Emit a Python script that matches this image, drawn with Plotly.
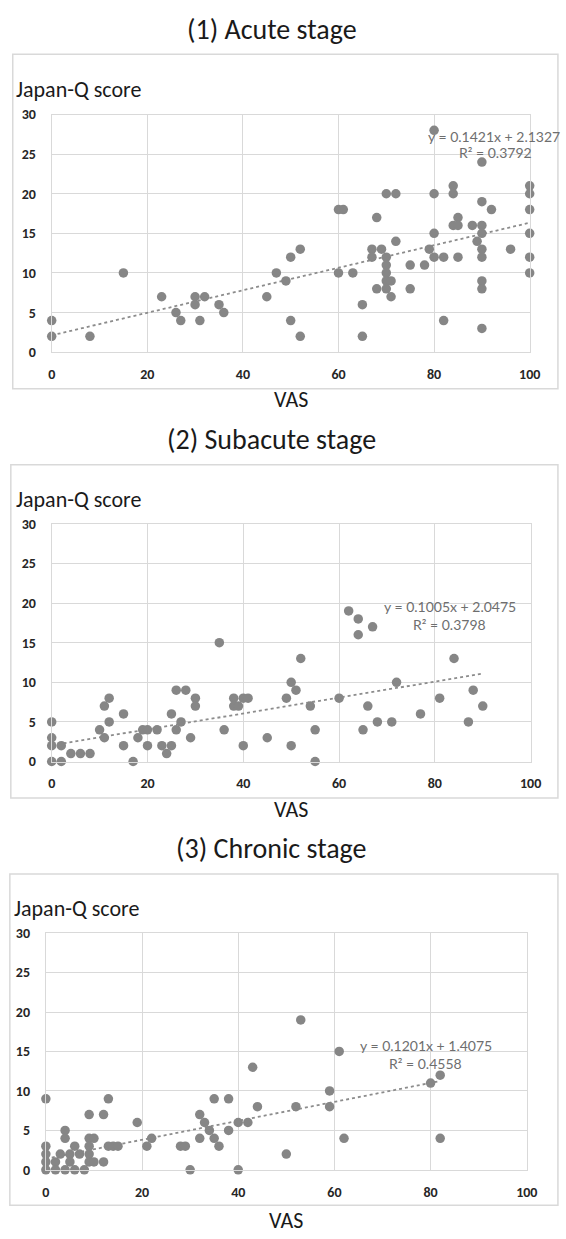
import plotly.graph_objects as go

W, H = 566, 1239

# ---------------- data ----------------
acute_vas = [0, 0, 8, 15, 23, 26, 27, 30, 30, 31, 32, 35, 36, 45, 47, 49, 50, 50, 52, 52,
             60, 61, 60, 63, 65, 65, 67, 67, 68, 68, 69, 70, 70, 70, 70, 70, 70, 71, 71,
             72, 72, 75, 75, 78, 79, 80, 80, 80, 80, 82, 82, 84, 84, 84, 85, 85, 85, 88,
             89, 90, 90, 90, 90, 90, 90, 90, 90, 90, 92, 96, 100, 100, 100, 100, 100, 100]
acute_q = [4, 2, 2, 10, 7, 5, 4, 7, 6, 4, 7, 6, 5, 7, 10, 9, 12, 4, 13, 2,
           18, 18, 10, 10, 6, 2, 13, 12, 17, 8, 13, 20, 12, 11, 10, 9, 8, 9, 7,
           20, 14, 11, 8, 11, 13, 28, 20, 15, 12, 12, 4, 21, 20, 16, 17, 16, 12, 16,
           14, 24, 19, 16, 15, 13, 12, 9, 8, 3, 18, 13, 21, 20, 18, 15, 12, 10]

subacute_vas = [0, 0, 0, 0, 2, 2, 4, 6, 8, 10, 11, 11, 12, 12, 15, 15, 17, 18, 19, 20,
                20, 22, 23, 24, 25, 25, 26, 26, 27, 28, 29, 30, 30, 35, 36, 38, 38, 39,
                40, 40, 41, 45, 49, 50, 50, 51, 52, 54, 55, 55, 60, 62, 64, 64, 65, 66,
                67, 68, 71, 72, 77, 81, 84, 87, 88, 90]
subacute_q = [5, 3, 2, 0, 2, 0, 1, 1, 1, 4, 7, 3, 8, 5, 6, 2, 0, 3, 4, 4,
              2, 4, 2, 1, 6, 2, 9, 4, 5, 9, 3, 8, 7, 15, 4, 8, 7, 7,
              8, 2, 8, 3, 8, 10, 2, 9, 13, 7, 4, 0, 8, 19, 18, 16, 4, 7,
              17, 5, 5, 10, 6, 8, 13, 5, 9, 7]

chronic_vas = [0, 0, 0, 0, 0, 2, 2, 3, 4, 4, 4, 5, 5, 6, 6, 7, 8, 9, 9, 9, 9, 9,
               10, 10, 12, 12, 13, 13, 14, 15, 19, 21, 22, 28, 29, 30, 32, 32, 33,
               34, 35, 35, 36, 38, 38, 40, 40, 42, 43, 44, 50, 52, 53, 59, 59, 61,
               62, 80, 82, 82]
chronic_q = [9, 3, 2, 1, 0, 1, 0, 2, 5, 4, 0, 2, 1, 3, 0, 2, 0, 7, 4, 3, 2, 1,
             4, 1, 7, 1, 9, 3, 3, 3, 6, 3, 4, 3, 3, 0, 7, 4, 6,
             5, 9, 4, 3, 9, 5, 6, 0, 6, 13, 8, 2, 8, 19, 10, 8, 15,
             4, 11, 12, 4]

titles = ["(1) Acute stage", "(2) Subacute stage", "(3) Chronic stage"]
slopes = [0.1421, 0.1005, 0.1201]
intercepts = [2.1327, 2.0475, 1.4075]
r2_values = ["0.3792", "0.3798", "0.4558"]
x_ticks = [0, 20, 40, 60, 80, 100]
y_ticks = [0, 5, 10, 15, 20, 25, 30]
y_label = "Japan-Q score"
x_label = "VAS"

series = [(acute_vas, acute_q), (subacute_vas, subacute_q), (chronic_vas, chronic_q)]

# ---------------- layout (pixels) ----------------
panels = [
    dict(plot=(49, 540, 108, 349), box=(9, 47, 386), title_y=22, ylab=(10, 83), vas_y=397,
         eq=(503, 130), r2=(505, 147)),
    dict(plot=(49, 541, 523, 764), box=(7, 463, 801), title_y=437, ylab=(10, 498), vas_y=813,
         eq=(458, 607), r2=(458, 625)),
    dict(plot=(43, 537, 938, 1178), box=(6, 878, 1214), title_y=852, ylab=(8, 913), vas_y=1229,
         eq=(433, 1052), r2=(433, 1070)),
]


def fx(px):
    return px / W


def fy(py):
    return 1 - py / H


FONT = "Carlito, Calibri, Lato, sans-serif"
NARROW = "Liberation Sans Narrow, Arial Narrow, Lato, sans-serif"
GRID = "#d9d9d9"
MARK = "#868686"

fig = go.Figure()
annotations = []
shapes = []
layout_axes = {}

for i, ((xs, ys), p) in enumerate(zip(series, panels)):
    n = "" if i == 0 else str(i + 1)
    xa, ya = "x" + n, "y" + n
    x0, x1, y0, y1 = p["plot"]

    tx = [min(xs), max(xs)]
    ty = [slopes[i] * v + intercepts[i] for v in tx]
    fig.add_trace(go.Scatter(x=tx, y=ty, mode="lines", xaxis=xa, yaxis=ya,
                             line=dict(color="#8c8c8c", width=1.8, dash="dot"),
                             showlegend=False, hoverinfo="skip"))
    fig.add_trace(go.Scatter(x=xs, y=ys, mode="markers", xaxis=xa, yaxis=ya,
                             marker=dict(color=MARK, size=9.5, line=dict(width=0)),
                             cliponaxis=False, showlegend=False, hoverinfo="x+y"))

    layout_axes["xaxis" + n] = dict(
        domain=[fx(x0), fx(x1)], anchor=ya, range=[0, 100], tickvals=x_ticks,
        showgrid=True, gridcolor=GRID, gridwidth=1, zeroline=False,
        showline=True, linecolor=GRID, linewidth=1, mirror=True,
        ticks="", ticklabelstandoff=9,
        tickfont=dict(family=FONT, size=14, color="#262626", weight="bold"),
    )
    layout_axes["yaxis" + n] = dict(
        domain=[fy(y1), fy(y0)], anchor=xa, range=[0, 30], tickvals=y_ticks,
        showgrid=True, gridcolor=GRID, gridwidth=1, zeroline=False,
        showline=True, linecolor=GRID, linewidth=1, mirror=True,
        ticks="", ticklabelstandoff=12,
        tickfont=dict(family=FONT, size=14, color="#262626", weight="bold"),
    )

    bx0, by0, by1 = p["box"]
    shapes.append(dict(type="rect", xref="paper", yref="paper",
                       x0=fx(bx0), x1=fx(W + 3), y0=fy(by1), y1=fy(by0),
                       line=dict(color=GRID, width=1.5), fillcolor="rgba(0,0,0,0)",
                       layer="below"))

    annotations.append(dict(text=titles[i], xref="paper", yref="paper",
                            x=fx(275), y=fy(p["title_y"]), xanchor="center", yanchor="middle",
                            showarrow=False, font=dict(family=FONT, size=28, color="#1a1a1a")))
    annotations.append(dict(text=y_label, xref="paper", yref="paper",
                            x=fx(p["ylab"][0]), y=fy(p["ylab"][1]), xanchor="left", yanchor="middle",
                            showarrow=False, font=dict(family=FONT, size=22, color="#1a1a1a")))
    annotations.append(dict(text=x_label, xref="paper", yref="paper",
                            x=fx((x0 + x1) / 2), y=fy(p["vas_y"]), xanchor="center", yanchor="middle",
                            showarrow=False, font=dict(family=FONT, size=22, color="#1a1a1a")))
    eq = f"y = {slopes[i]:.4f}x + {intercepts[i]:.4f}"
    annotations.append(dict(text=eq, xref="paper", yref="paper",
                            x=fx(p["eq"][0]), y=fy(p["eq"][1]), xanchor="center", yanchor="middle",
                            showarrow=False, font=dict(family=NARROW, size=14, color="#6e6e6e")))
    annotations.append(dict(text=f"R² = {r2_values[i]}", xref="paper", yref="paper",
                            x=fx(p["r2"][0]), y=fy(p["r2"][1]), xanchor="center", yanchor="middle",
                            showarrow=False, font=dict(family=NARROW, size=14, color="#6e6e6e")))

fig.update_layout(
    width=W, height=H, margin=dict(l=0, r=0, t=0, b=0),
    paper_bgcolor="white", plot_bgcolor="white",
    annotations=annotations, shapes=shapes, showlegend=False,
    **layout_axes,
)

fig.write_html("out.html")
